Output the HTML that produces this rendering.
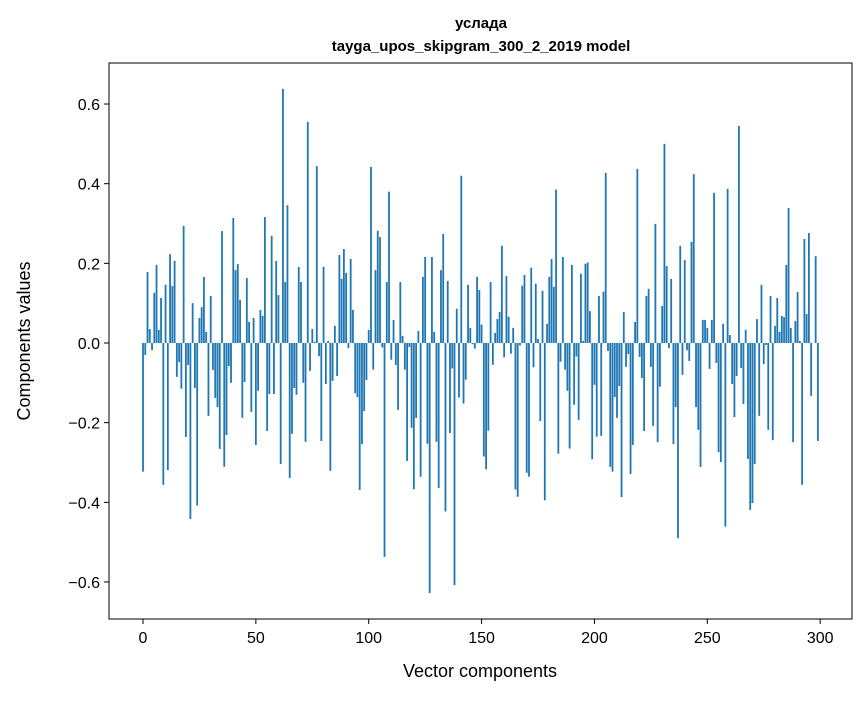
<!DOCTYPE html>
<html><head><meta charset="utf-8"><style>
body{margin:0;background:#fff;}
svg text{font-family:"Liberation Sans","DejaVu Sans",sans-serif;fill:#000;}
</style></head><body>
<svg id="chart" width="867" height="696" xmlns="http://www.w3.org/2000/svg">
<rect width="867" height="696" fill="#fff"/>
<text x="481" y="28" text-anchor="middle" font-size="15" font-weight="bold">услада</text>
<text x="481" y="51" text-anchor="middle" font-size="15" font-weight="bold">tayga_upos_skipgram_300_2_2019 model</text>
<g id="bars"></g>
<g id="xticks"></g>
<g id="yticks"></g>
<rect x="109" y="63" width="743" height="556" fill="none" stroke="#000" stroke-width="1"/>
<text x="480" y="677" text-anchor="middle" font-size="18">Vector components</text>
<text transform="translate(30,341) rotate(-90)" text-anchor="middle" font-size="18">Components values</text>
</svg>
<script>
const values = [
-0.323,-0.03,0.178,0.035,-0.018,0.126,0.196,0.033,0.113,-0.356,
0.146,-0.319,0.223,0.143,0.206,-0.085,-0.048,-0.115,0.294,-0.236,
-0.055,-0.442,0.100,-0.113,-0.408,0.063,0.09,0.166,0.028,-0.183,
0.118,-0.068,-0.138,-0.161,-0.266,0.281,-0.311,-0.231,-0.058,-0.1,
0.314,0.183,0.198,0.108,-0.188,-0.098,0.163,0.053,-0.173,0.063,
-0.256,-0.12,0.083,0.068,0.316,-0.221,-0.128,0.269,-0.128,0.206,
0.12,-0.304,0.638,0.153,0.346,-0.339,-0.228,-0.113,-0.13,0.191,
0.153,-0.1,-0.248,0.555,-0.07,0.035,0.003,0.444,-0.033,-0.246,
0.191,-0.103,0.005,-0.321,-0.095,0.043,-0.083,0.221,0.161,0.236,
0.176,-0.013,0.211,0.083,-0.126,-0.136,-0.369,-0.254,-0.171,-0.093,
0.033,0.442,-0.067,0.183,0.282,0.266,-0.011,-0.537,0.153,0.38,
-0.042,0.058,-0.055,-0.168,0.153,0.018,-0.067,-0.296,-0.01,-0.213,
-0.367,-0.188,0.03,-0.336,0.166,0.216,-0.253,-0.628,0.216,0.028,
-0.248,-0.364,0.183,0.274,-0.423,0.156,-0.226,-0.064,-0.608,0.086,
-0.137,0.42,-0.152,-0.092,0.146,0.038,-0.003,-0.014,0.166,0.133,
0.046,-0.285,-0.317,-0.22,0.153,-0.055,0.025,0.06,0.078,0.244,
-0.036,0.168,0.066,-0.027,0.038,-0.368,-0.386,-0.006,0.144,0.171,
-0.326,-0.336,0.189,-0.061,0.149,0.01,-0.196,0.131,-0.395,0.048,
0.166,0.211,0.141,0.385,-0.278,-0.047,0.216,-0.067,-0.12,-0.265,
0.196,-0.155,-0.034,-0.193,0.174,0.005,0.199,0.202,0.08,-0.292,
-0.105,-0.235,0.118,-0.233,0.129,0.427,-0.02,-0.311,-0.323,-0.136,
-0.188,-0.108,-0.387,0.078,-0.06,-0.028,-0.329,-0.256,0.053,0.437,
-0.035,-0.088,-0.221,0.118,0.136,-0.06,-0.208,0.299,-0.249,-0.11,
0.093,0.5,0.193,-0.013,0.161,-0.254,-0.161,-0.49,0.244,-0.08,
0.208,-0.018,-0.045,0.254,0.424,-0.161,-0.218,-0.311,0.058,0.058,
0.038,-0.065,0.058,0.377,-0.05,-0.274,-0.299,0.048,-0.461,0.387,
0.02,-0.103,-0.186,-0.083,0.545,-0.063,-0.153,0.033,-0.291,-0.419,
-0.402,-0.304,0.06,-0.183,0.146,-0.053,-0.005,-0.218,0.118,-0.244,
0.043,0.113,0.028,0.068,0.065,0.196,0.339,0.038,-0.249,0.055,
0.128,0.005,-0.356,0.261,0.073,0.276,-0.133,0.0,0.218,-0.246
];
const xTickValues = [0,50,100,150,200,250,300];
const yTickValues = [-0.6,-0.4,-0.2,0.0,0.2,0.4,0.6];

const NS="http://www.w3.org/2000/svg";
const X0=109,X1=852,Y0=63,Y1=619;
const xMin=-15.06,xMax=314.1,yMin=-0.693,yMax=0.703;
function xs(v){return X0+(v-xMin)/(xMax-xMin)*(X1-X0);}
function ys(v){return Y1-(v-yMin)/(yMax-yMin)*(Y1-Y0);}
const bars=document.getElementById('bars');
const bw=(xs(0.8)-xs(0));
values.forEach((v,i)=>{
  const r=document.createElementNS(NS,'rect');
  const y=Math.min(ys(v),ys(0));
  r.setAttribute('x',xs(i)-bw/2);
  r.setAttribute('y',y);
  r.setAttribute('width',bw);
  r.setAttribute('height',Math.max(Math.abs(ys(v)-ys(0)),0.01));
  r.setAttribute('fill','#1f77b4');
  
  
  bars.appendChild(r);
});
const xt=document.getElementById('xticks');
xTickValues.forEach(t=>{
  const l=document.createElementNS(NS,'line');
  l.setAttribute('x1',xs(t));l.setAttribute('x2',xs(t));
  l.setAttribute('y1',Y1);l.setAttribute('y2',Y1+5);
  l.setAttribute('stroke','#000');
  
  
  xt.appendChild(l);
  const tx=document.createElementNS(NS,'text');
  tx.setAttribute('x',xs(t));tx.setAttribute('y',Y1+24);
  tx.setAttribute('text-anchor','middle');tx.setAttribute('font-size','16');
  tx.textContent=String(t);
  
  
  xt.appendChild(tx);
});
const yt=document.getElementById('yticks');
yTickValues.forEach(t=>{
  const l=document.createElementNS(NS,'line');
  l.setAttribute('x1',X0-5);l.setAttribute('x2',X0);
  l.setAttribute('y1',ys(t));l.setAttribute('y2',ys(t));
  l.setAttribute('stroke','#000');
  
  
  yt.appendChild(l);
  const tx=document.createElementNS(NS,'text');
  tx.setAttribute('x',X0-9);tx.setAttribute('y',ys(t)+6);
  tx.setAttribute('text-anchor','end');tx.setAttribute('font-size','16');
  tx.textContent=(t<0?'\u2212':'')+Math.abs(t).toFixed(1);
  
  
  yt.appendChild(tx);
});
</script>
</body></html>
